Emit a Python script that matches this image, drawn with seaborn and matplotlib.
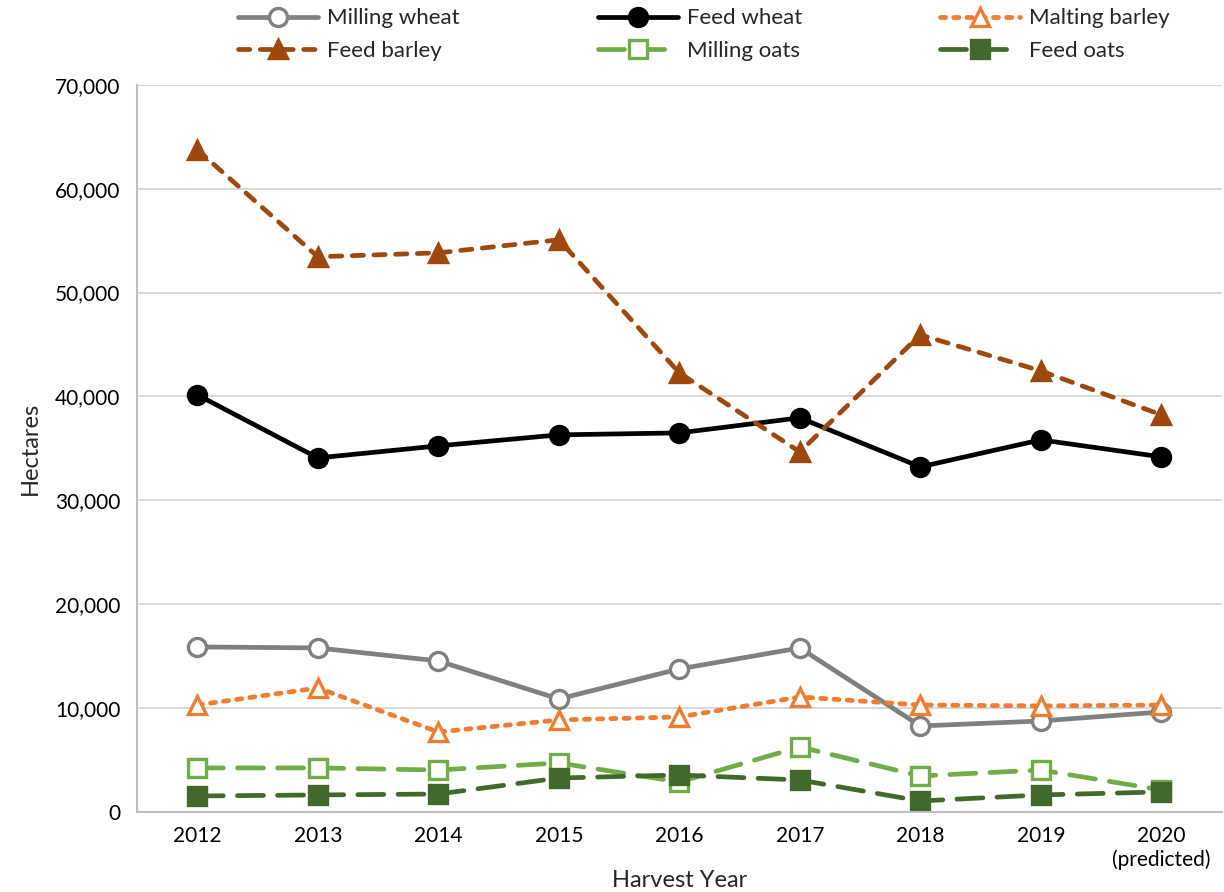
import pandas as pd
import matplotlib.pyplot as plt
import seaborn as sns
from matplotlib.ticker import FuncFormatter

# Du lieu doc tu bieu do
years = ['2012', '2013', '2014', '2015', '2016', '2017', '2018', '2019', '2020\n(predicted)']
milling_wheat = [15890, 15790, 14540, 10880, 13770, 15790, 8280, 8760, 9630]
feed_wheat = [40150, 34080, 35240, 36300, 36490, 37940, 33220, 35820, 34180]
malting_barley = [10300, 11940, 7700, 8860, 9150, 11070, 10300, 10210, 10300]
feed_barley = [63740, 53440, 53820, 55080, 42270, 34660, 45930, 42460, 38230]
milling_oats = [4240, 4240, 4040, 4720, 2890, 6260, 3470, 4040, 2120]
feed_oats = [1540, 1640, 1730, 3270, 3560, 3080, 1060, 1640, 1930]

series = {
    'Milling wheat': milling_wheat,
    'Feed wheat': feed_wheat,
    'Malting barley': malting_barley,
    'Feed barley': feed_barley,
    'Milling oats': milling_oats,
    'Feed oats': feed_oats,
}

styles = {
    'Milling wheat': dict(color='#808080', marker='o', linestyle='-', mfc='white'),
    'Feed wheat': dict(color='#000000', marker='o', linestyle='-', mfc='#000000'),
    'Malting barley': dict(color='#ED7D31', marker='^', linestyle=(0, (1.1, 1.7)), mfc='white'),
    'Feed barley': dict(color='#9E480E', marker='^', linestyle=(0, (2.4, 2.2)), mfc='#9E480E'),
    'Milling oats': dict(color='#70AD47', marker='s', linestyle=(0, (5.5, 3)), mfc='white'),
    'Feed oats': dict(color='#43682B', marker='s', linestyle=(0, (5.5, 3)), mfc='#43682B'),
}

sns.set_style('white')
plt.rcParams['font.family'] = ['Lato', 'DejaVu Sans']

fig = plt.figure(figsize=(12.24, 8.92), dpi=100)
ax = fig.add_axes([0.112, 0.0897, 0.886, 0.8153])

for name, vals in series.items():
    df = pd.DataFrame({'x': range(len(years)), 'y': vals})
    st = styles[name]
    sns.lineplot(data=df, x='x', y='y', ax=ax, label=name, color=st['color'],
                 marker=st['marker'], linestyle=st['linestyle'], linewidth=3.4,
                 markersize=13, markerfacecolor=st['mfc'],
                 markeredgecolor=st['color'], markeredgewidth=2.4,
                 dash_capstyle='round')

ax.set_xlim(-0.5, len(years) - 0.5)
ax.set_ylim(0, 70000)
ax.set_yticks(range(0, 70001, 10000))
ax.yaxis.set_major_formatter(FuncFormatter(lambda v, p: f'{int(v):,}'))
ax.set_xticks(range(len(years)))
ax.set_xticklabels(years)
ax.tick_params(axis='both', labelsize=15, length=0, colors='#000000')
ax.tick_params(axis='x', pad=10)
ax.tick_params(axis='y', pad=12)
ax.grid(axis='y', color='#D9D9D9', linewidth=1.5)
ax.set_axisbelow(True)
for s in ['top', 'right']:
    ax.spines[s].set_visible(False)
for s in ['left', 'bottom']:
    ax.spines[s].set_color('#BFBFBF')
    ax.spines[s].set_linewidth(1.5)

ax.set_xlabel('Harvest Year', fontsize=17, labelpad=0)
ax.set_ylabel('Hectares', fontsize=17, labelpad=10)

# Sap xep legend theo hang (giong Excel)
handles, labels = ax.get_legend_handles_labels()
order = [0, 3, 1, 4, 2, 5]
ax.legend([handles[i] for i in order], [labels[i] for i in order],
          ncol=3, loc='upper center', bbox_to_anchor=(0.575, 1.003),
          bbox_transform=fig.transFigure,
          frameon=False, fontsize=16, handlelength=3.6,
          columnspacing=6.2, handletextpad=0.4, labelspacing=0.55,
          borderaxespad=0.1)

fig.savefig('out.png', dpi=100)
